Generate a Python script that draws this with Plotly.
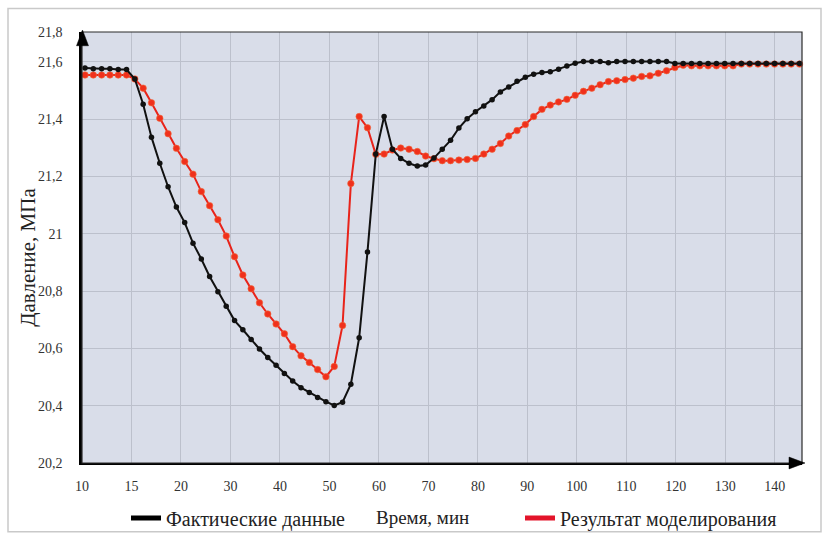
import plotly.graph_objects as go

# ---- data (sample index -> pressure, MPa) ----
sample = list(range(87))

actual = [21.578, 21.576, 21.576, 21.576, 21.573, 21.573, 21.540, 21.452, 21.337, 21.246,
          21.164, 21.093, 21.039, 20.967, 20.912, 20.851, 20.798, 20.747, 20.697, 20.665,
          20.631, 20.598, 20.568, 20.541, 20.512, 20.486, 20.463, 20.446, 20.429, 20.414,
          20.401, 20.412, 20.475, 20.637, 20.936, 21.278, 21.409, 21.295, 21.263, 21.246,
          21.236, 21.240, 21.264, 21.295, 21.326, 21.369, 21.401, 21.426, 21.446, 21.468,
          21.495, 21.512, 21.532, 21.546, 21.557, 21.563, 21.565, 21.574, 21.585, 21.595,
          21.601, 21.601, 21.601, 21.597, 21.601, 21.601, 21.601, 21.601, 21.601, 21.601,
          21.601, 21.594, 21.594, 21.594, 21.594, 21.594, 21.594, 21.594, 21.594, 21.594,
          21.594, 21.594, 21.594, 21.594, 21.594, 21.594, 21.594]

model = [21.554, 21.554, 21.554, 21.554, 21.554, 21.554, 21.540, 21.508, 21.457, 21.403,
         21.349, 21.298, 21.252, 21.208, 21.147, 21.098, 21.049, 20.992, 20.920, 20.856,
         20.808, 20.759, 20.720, 20.685, 20.651, 20.606, 20.574, 20.551, 20.526, 20.501,
         20.537, 20.680, 21.175, 21.409, 21.370, 21.277, 21.278, 21.292, 21.299, 21.295,
         21.287, 21.271, 21.262, 21.255, 21.255, 21.257, 21.259, 21.263, 21.278, 21.295,
         21.315, 21.341, 21.360, 21.381, 21.409, 21.434, 21.449, 21.460, 21.469, 21.483,
         21.497, 21.508, 21.520, 21.531, 21.534, 21.538, 21.543, 21.549, 21.551, 21.560,
         21.569, 21.580, 21.588, 21.586, 21.586, 21.586, 21.586, 21.586, 21.586, 21.592,
         21.592, 21.592, 21.592, 21.592, 21.592, 21.592, 21.592]

x_tick_labels = ["10", "15", "20", "30", "40", "50", "60", "70", "80", "90",
                 "100", "110", "120", "130", "140"]
y_tick_vals = [20.2, 20.4, 20.6, 20.8, 21.0, 21.2, 21.4, 21.6, 21.704]
y_tick_labels = ["20,2", "20,4", "20,6", "20,8", "21", "21,2", "21,4", "21,6", "21,8"]

name_actual = "Фактические данные"
name_model = "Результат моделирования"
x_title = "Время, мин"
y_title = "Давление, МПа"

# ---- layout helpers ----
X_MIN, X_MAX = -0.36, 86.3
x_tick_pos = [round(-0.36 + 5.956 * k, 3) for k in range(len(x_tick_labels))]

W, H = 829, 549
ML, MR, MT, MB = 82, 27, 32, 78
PW, PH = W - ML - MR, H - MT - MB


def px(xp):
    return (xp - ML) / PW


def py(yp):
    return (H - MB - yp) / PH


SERIF = "Liberation Serif"
RED = "#e8231a"
BLACK = "#111111"

fig = go.Figure()

fig.add_trace(go.Scatter(
    x=sample, y=model, mode="lines+markers", showlegend=False, cliponaxis=False,
    line=dict(color=RED, width=2),
    marker=dict(color="#f0301c", size=6.5, line=dict(color="#f26a3a", width=0.6)),
))
fig.add_trace(go.Scatter(
    x=sample, y=actual, mode="lines+markers", showlegend=False, cliponaxis=False,
    line=dict(color=BLACK, width=2),
    marker=dict(color=BLACK, size=5.5),
))

# legend-only keys (thick line, no marker)
fig.add_trace(go.Scatter(x=[None], y=[None], mode="lines", name=name_actual,
                         line=dict(color="black", width=5), legend="legend"))
fig.add_trace(go.Scatter(x=[None], y=[None], mode="lines", name=name_model,
                         line=dict(color="#e3142a", width=5), legend="legend2"))

shapes = [
    # outer frame of the figure
    dict(type="rect", xref="paper", yref="paper",
         x0=px(8), x1=px(821), y0=py(541), y1=py(8),
         line=dict(color="#c9c9c9", width=1.5), layer="below"),
    # plot box top/right
    dict(type="rect", xref="paper", yref="paper", x0=0, x1=1, y0=0, y1=1,
         line=dict(color="#2a2a2a", width=1.2)),
    # y axis arrow
    dict(type="path", xref="paper", yref="paper",
         path=f"M {px(82.5)},{py(30)} L {px(76.5)},{py(46)} L {px(88.5)},{py(46)} Z",
         fillcolor="black", line=dict(color="black", width=0.5)),
    # x axis arrow
    dict(type="path", xref="paper", yref="paper",
         path=f"M {px(805)},{py(471)} L {px(789)},{py(465)} L {px(789)},{py(477)} Z",
         fillcolor="black", line=dict(color="black", width=0.5)),
]

annotations = [
    dict(text=x_title, xref="paper", yref="paper", x=px(422), y=py(527),
         xanchor="center", yanchor="middle", showarrow=False,
         font=dict(family=SERIF, size=19, color="#222")),
    dict(text=y_title, xref="paper", yref="paper", x=px(28), y=py(262),
         xanchor="center", yanchor="middle", showarrow=False, textangle=-90,
         font=dict(family=SERIF, size=21, color="#222")),
]

legend_common = dict(orientation="h", yanchor="middle", xanchor="left",
                     bgcolor="rgba(0,0,0,0)", borderwidth=0,
                     font=dict(family=SERIF, size=20, color="#222"),
                     itemwidth=30)

fig.update_layout(
    width=W, height=H,
    margin=dict(l=ML, r=MR, t=MT, b=MB, pad=0),
    paper_bgcolor="white",
    plot_bgcolor="#d9dde9",
    font=dict(family=SERIF),
    shapes=shapes,
    annotations=annotations,
    legend=dict(x=px(126), y=py(527), **legend_common),
    legend2=dict(x=px(520), y=py(527), **legend_common),
    xaxis=dict(
        range=[X_MIN, X_MAX], tickmode="array", tickvals=x_tick_pos, ticktext=x_tick_labels,
        showgrid=True, gridcolor="#bcc0cc", gridwidth=1, zeroline=False,
        showline=True, linecolor="black", linewidth=2, ticks="",
        ticklabelstandoff=9,
        tickfont=dict(family=SERIF, size=14, color="#333"),
    ),
    yaxis=dict(
        range=[20.2, 21.704], tickmode="array", tickvals=y_tick_vals, ticktext=y_tick_labels,
        showgrid=True, gridcolor="#bcc0cc", gridwidth=1, zeroline=False,
        showline=True, linecolor="black", linewidth=2.5, ticks="",
        ticklabelstandoff=14,
        tickfont=dict(family=SERIF, size=14, color="#333"),
    ),
)

fig.write_html("out.html", config={"displayModeBar": False})
